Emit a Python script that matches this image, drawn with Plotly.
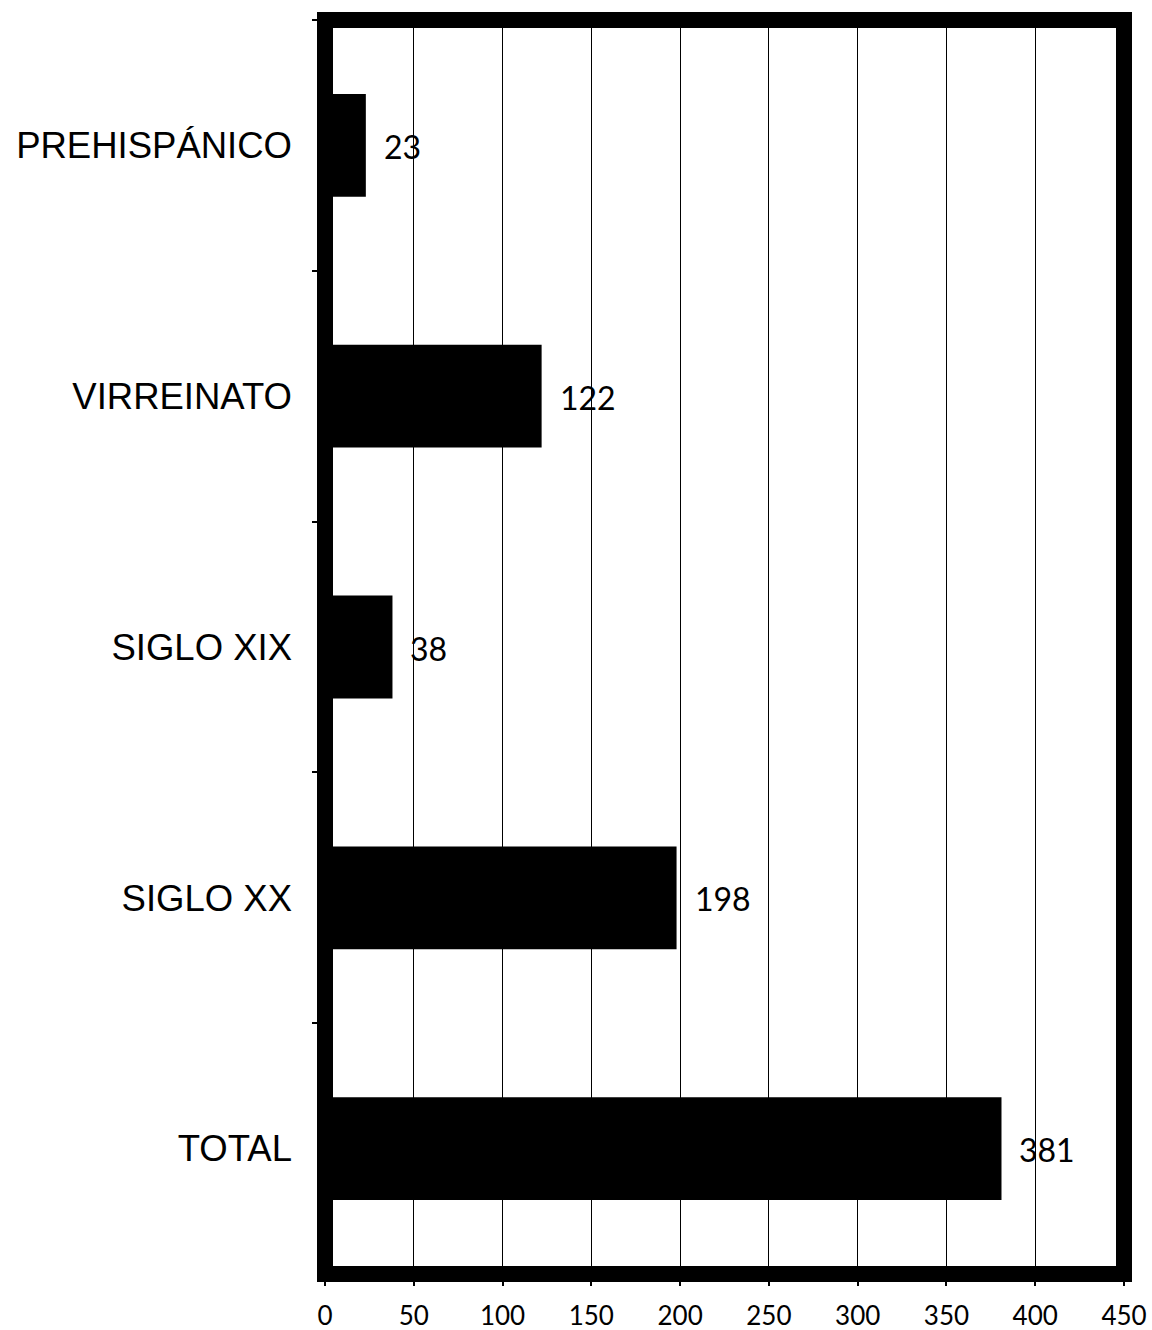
import plotly.graph_objects as go

categories = ["PREHISPÁNICO", "VIRREINATO", "SIGLO XIX", "SIGLO XX", "TOTAL"]
values = [23, 122, 38, 198, 381]
x_ticks = [0, 50, 100, 150, 200, 250, 300, 350, 400, 450]

fig = go.Figure()
fig.add_trace(go.Bar(
    x=values, y=categories, orientation="h",
    marker=dict(color="black", line=dict(width=0)),
    width=0.41, hoverinfo="skip", showlegend=False,
))

for c, v in zip(categories, values):
    fig.add_annotation(
        x=v, y=c, text=str(v), showarrow=False,
        xanchor="left", yanchor="middle", xshift=16, yshift=-1,
        font=dict(family="Lato", size=32, color="black"),
    )

# thick frame around plot area
fig.add_shape(type="rect", xref="paper", yref="paper", x0=0, x1=1, y0=0, y1=1,
              line=dict(color="black", width=16), layer="above")

fig.update_layout(
    width=1152, height=1330,
    margin=dict(l=325, r=28, t=20, b=56),
    paper_bgcolor="white", plot_bgcolor="white",
    xaxis=dict(
        range=[0, 450], tickvals=x_ticks, ticktext=[str(t) for t in x_ticks],
        showgrid=True, gridcolor="black", gridwidth=1, zeroline=False,
        showline=False, ticks="outside", ticklen=11, tickwidth=2, tickcolor="black",
        tickfont=dict(family="Lato", size=26, color="black"),
        ticklabelstandoff=8, automargin=False,
    ),
    yaxis=dict(
        type="category", categoryorder="array", categoryarray=categories,
        autorange="reversed", showgrid=False, zeroline=False, showline=False,
        tickson="boundaries", ticks="outside", ticklen=12, tickwidth=2, tickcolor="black",
        tickfont=dict(family="Liberation Sans", size=36.5, color="black"),
        ticklabelstandoff=32, automargin=False,
    ),
)

fig.write_html(
    "out.html",
    config={"displayModeBar": False},
    post_script="document.body.style.margin='0px';document.body.style.overflow='hidden';",
)
